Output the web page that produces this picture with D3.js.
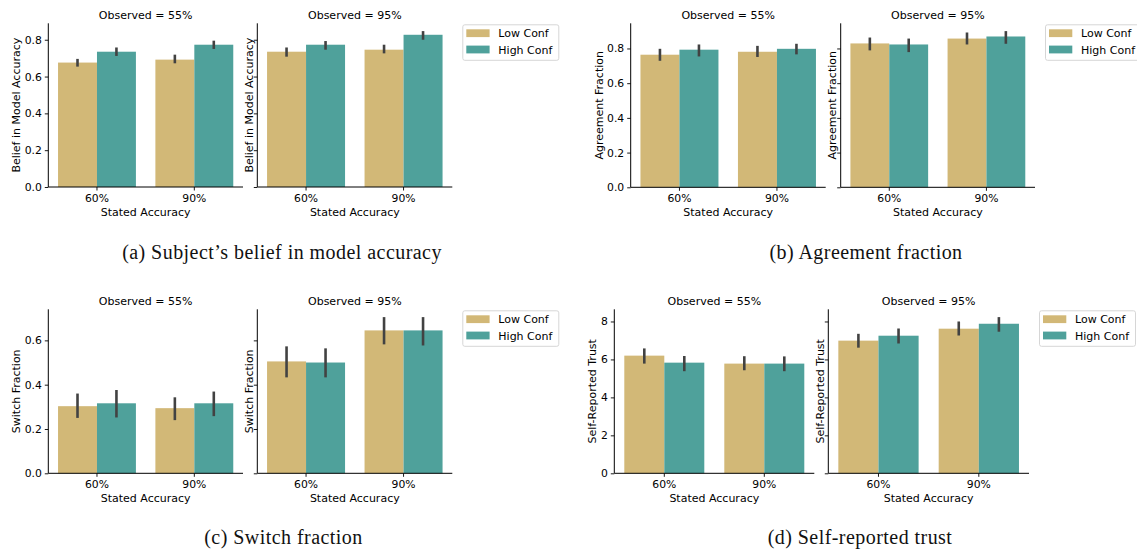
<!DOCTYPE html>
<html><head><meta charset="utf-8">
<script src="https://cdn.jsdelivr.net/npm/d3@7"></script>
<style>body{margin:0;background:#fff}</style>
</head><body>
<svg id="fig" width="1137" height="553"></svg>
<script>
// Categories
const statedAccuracy = ["60%", "90%"];
const confidence = ["Low Conf", "High Conf"];
const confColors = ["#d2b877", "#4fa19b"];

// Rows: stated accuracy, confidence level, mean, CI low, CI high
const beliefObs55 = [
  ["60%", "Low Conf", 0.676, 0.654, 0.696],
  ["60%", "High Conf", 0.735, 0.712, 0.758],
  ["90%", "Low Conf", 0.692, 0.672, 0.719],
  ["90%", "High Conf", 0.773, 0.750, 0.795]
];
const beliefObs95 = [
  ["60%", "Low Conf", 0.735, 0.708, 0.758],
  ["60%", "High Conf", 0.773, 0.746, 0.793],
  ["90%", "Low Conf", 0.746, 0.726, 0.773],
  ["90%", "High Conf", 0.827, 0.800, 0.847]
];
const agreeObs55 = [
  ["60%", "Low Conf", 0.764, 0.729, 0.798],
  ["60%", "High Conf", 0.793, 0.754, 0.823],
  ["90%", "Low Conf", 0.781, 0.751, 0.815],
  ["90%", "High Conf", 0.798, 0.766, 0.827]
];
const agreeObs95 = [
  ["60%", "Low Conf", 0.829, 0.789, 0.863],
  ["60%", "High Conf", 0.823, 0.779, 0.857],
  ["90%", "Low Conf", 0.857, 0.823, 0.892],
  ["90%", "High Conf", 0.869, 0.827, 0.900]
];
const switchObs55 = [
  ["60%", "Low Conf", 0.303, 0.250, 0.360],
  ["60%", "High Conf", 0.316, 0.252, 0.376],
  ["90%", "Low Conf", 0.294, 0.240, 0.343],
  ["90%", "High Conf", 0.316, 0.258, 0.369]
];
const switchObs95 = [
  ["60%", "Low Conf", 0.505, 0.433, 0.573],
  ["60%", "High Conf", 0.500, 0.433, 0.564],
  ["90%", "Low Conf", 0.645, 0.582, 0.705],
  ["90%", "High Conf", 0.645, 0.577, 0.705]
];
const trustObs55 = [
  ["60%", "Low Conf", 6.20, 5.78, 6.58],
  ["60%", "High Conf", 5.83, 5.38, 6.18],
  ["90%", "Low Conf", 5.78, 5.43, 6.17],
  ["90%", "High Conf", 5.78, 5.38, 6.16]
];
const trustObs95 = [
  ["60%", "Low Conf", 6.99, 6.62, 7.35],
  ["60%", "High Conf", 7.25, 6.84, 7.63],
  ["90%", "Low Conf", 7.62, 7.26, 8.00],
  ["90%", "High Conf", 7.88, 7.46, 8.23]
];

// Tick values
const fractionTicks = [0, 0.2, 0.4, 0.6, 0.8];
const switchTicks = [0, 0.2, 0.4, 0.6];
const trustTicks = [0, 2, 4, 6, 8];
const subplotTitles = ["Observed = 55%", "Observed = 95%"];

const svg = d3.select("#fig");
const SANS = "DejaVu Sans, sans-serif";
const SERIF = "Liberation Serif, serif";

const figures = [
  { data: [beliefObs55, beliefObs95], ylabel: "Belief in Model Accuracy", ticks: fractionTicks, fmt: d3.format(".1f"),
    axes: [[48.3, 243], [257.3, 452.3]], top: 23.3, bottom: 187, ylabOff: [32.6, 8.3],
    caption: "(a) Subject’s belief in model accuracy", capX: 282, capY: 259 },
  { data: [agreeObs55, agreeObs95], ylabel: "Agreement Fraction", ticks: fractionTicks, fmt: d3.format(".1f"),
    axes: [[630.7, 825.7], [840.7, 1035]], top: 23.3, bottom: 187.3, ylabOff: [31.7, 9],
    caption: "(b) Agreement fraction", capX: 866, capY: 259 },
  { data: [switchObs55, switchObs95], ylabel: "Switch Fraction", ticks: switchTicks, fmt: d3.format(".1f"),
    axes: [[48.3, 243], [257.3, 452.3]], top: 309.3, bottom: 473.3, ylabOff: [32.3, 8.3],
    caption: "(c) Switch fraction", capX: 283.5, capY: 544 },
  { data: [trustObs55, trustObs95], ylabel: "Self-Reported Trust", ticks: trustTicks, fmt: d3.format("d"),
    axes: [[614.3, 814.3], [828.3, 1029]], top: 309.3, bottom: 473.3, ylabOff: [22.6, 8.5],
    caption: "(d) Self-reported trust", capX: 860, capY: 544 }
];

figures.forEach(fig => {
  // shared y domain across both subplots of a figure
  const ymax = d3.max(fig.data.flat(), r => r[4]) * 1.05;
  const y = d3.scaleLinear().domain([0, ymax]).range([fig.bottom, fig.top]);

  fig.data.forEach((rows, si) => {
    const [xa, xb] = fig.axes[si];
    const g = svg.append("g");
    const x = d3.scaleBand().domain(statedAccuracy).range([xa, xb]).paddingInner(0.2).paddingOuter(0.1);
    const xc = d3.scaleBand().domain(confidence).range([0, x.bandwidth()]);
    const color = d3.scaleOrdinal().domain(confidence).range(confColors);

    // bars
    g.selectAll("rect.bar").data(rows).join("rect")
      .attr("class", "bar")
      .attr("x", d => x(d[0]) + xc(d[1]))
      .attr("width", xc.bandwidth())
      .attr("y", d => y(d[2]))
      .attr("height", d => y(0) - y(d[2]))
      .attr("fill", d => color(d[1]));

    // confidence intervals
    g.selectAll("line.ci").data(rows).join("line")
      .attr("class", "ci")
      .attr("x1", d => x(d[0]) + xc(d[1]) + xc.bandwidth() / 2)
      .attr("x2", d => x(d[0]) + xc(d[1]) + xc.bandwidth() / 2)
      .attr("y1", d => y(d[3]))
      .attr("y2", d => y(d[4]))
      .attr("stroke", "#424242")
      .attr("stroke-width", 2.6);

    // y axis
    const yAxis = d3.axisLeft(y).tickValues(fig.ticks).tickSize(3.5).tickPadding(3)
      .tickFormat(si === 0 ? fig.fmt : () => "");
    const ya = g.append("g").attr("transform", `translate(${xa},0)`).call(yAxis);
    ya.select(".domain").attr("d", `M0,${y.range()[0]}V${y.range()[1]}`).attr("stroke", "#000").attr("stroke-width", 1);
    ya.selectAll(".tick line").attr("stroke", "#000").attr("stroke-width", 0.9);
    ya.selectAll(".tick text").attr("font-family", SANS).attr("font-size", 10.8).attr("fill", "#000");

    // x axis
    const xAxis = d3.axisBottom(x).tickSize(3.5).tickPadding(4);
    const xaG = g.append("g").attr("transform", `translate(0,${fig.bottom})`).call(xAxis);
    xaG.select(".domain").attr("d", `M${xa},0H${xb}`).attr("stroke", "#000").attr("stroke-width", 1);
    xaG.selectAll(".tick line").attr("stroke", "#000").attr("stroke-width", 0.9);
    xaG.selectAll(".tick text").attr("font-family", SANS).attr("font-size", 10.8).attr("fill", "#000");

    // axis labels
    g.append("text")
      .attr("x", (xa + xb) / 2).attr("y", fig.bottom + 28.5)
      .attr("text-anchor", "middle").attr("font-family", SANS).attr("font-size", 11)
      .text("Stated Accuracy");
    const lx = xa - fig.ylabOff[si];
    g.append("text")
      .attr("transform", `translate(${lx},${(fig.top + fig.bottom) / 2}) rotate(-90)`)
      .attr("dy", "0.36em")
      .attr("text-anchor", "middle").attr("font-family", SANS).attr("font-size", 11)
      .text(fig.ylabel);

    // subplot title
    g.append("text")
      .attr("x", (xa + xb) / 2).attr("y", fig.top - 4.5)
      .attr("text-anchor", "middle").attr("font-family", SANS).attr("font-size", 11)
      .text(subplotTitles[si]);

    // legend on the right-hand subplot
    if (si === 1) {
      const lg = g.append("g").attr("transform", `translate(${xb + 10},${fig.top + 1})`);
      lg.append("rect").attr("x", 0.5).attr("y", 0.5).attr("width", 96).attr("height", 35.5)
        .attr("rx", 2).attr("fill", "#fff").attr("stroke", "#d6d6d6").attr("stroke-width", 1);
      confidence.forEach((c, i) => {
        lg.append("rect").attr("x", 4).attr("y", 5 + i * 16.3).attr("width", 23.3).attr("height", 7.8)
          .attr("fill", color(c));
        lg.append("text").attr("x", 36).attr("y", 13 + i * 16.3)
          .attr("font-family", SANS).attr("font-size", 11).text(c);
      });
    }
  });

  // figure caption
  svg.append("text")
    .attr("x", fig.capX).attr("y", fig.capY)
    .attr("text-anchor", "middle").attr("font-family", SERIF).attr("font-size", 20)
    .attr("letter-spacing", 0.45)
    .attr("fill", "#111")
    .text(fig.caption);
});
</script>
</body></html>
